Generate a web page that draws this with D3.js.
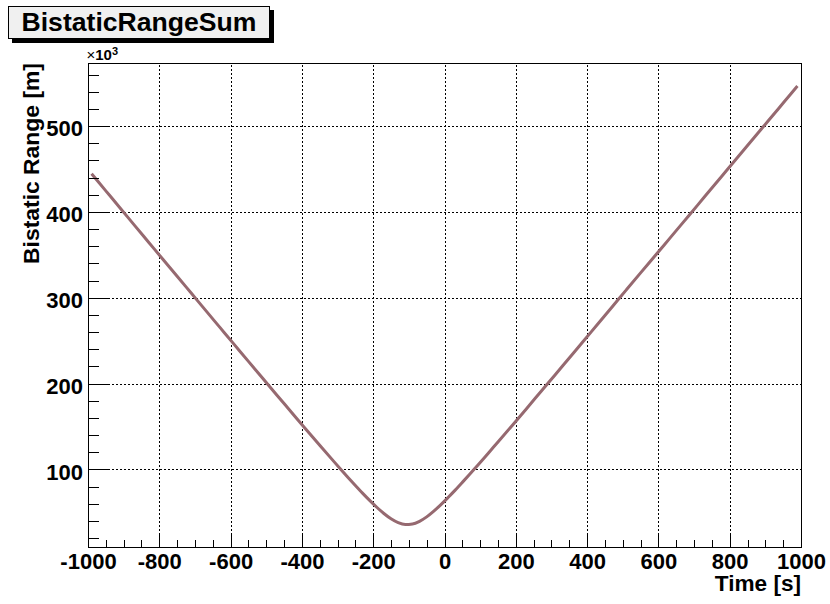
<!DOCTYPE html>
<html>
<head>
<meta charset="utf-8">
<script src="https://cdn.jsdelivr.net/npm/d3@7"></script>
<style>
  html, body { margin: 0; padding: 0; background: #fff; }
  svg { display: block; }
  text { font-family: "Liberation Sans", Arial, Helvetica, sans-serif; font-weight: bold; fill: #000; }
</style>
</head>
<body>
<svg id="chart" width="830" height="604"></svg>
<script>
// Bistatic range sum (in units of 10^3 m) sampled over time (s)
const times = [
  -990, -950, -910, -870, -830, -790, -750, -710, -670, -630, -590, -550, -510,
  -470, -430, -390, -350, -310, -290, -270, -250, -230, -210, -190, -170, -150,
  -130, -110, -90, -70, -50, -30, -10, 10, 30, 50, 70, 90, 110, 130, 150, 190,
  230, 270, 310, 350, 390, 430, 470, 510, 550, 590, 630, 670, 710, 750, 790,
  830, 870, 910, 950, 990
];
const rangeSum = [
  444.4, 424.5, 404.6, 384.6, 364.7, 344.8, 325.0, 305.1, 285.2, 265.4, 245.6, 225.8, 206.1,
  186.4, 166.9, 147.3, 128.0, 109.0, 99.6, 90.3, 81.2, 72.3, 63.8, 55.8, 48.5, 42.3,
  37.8, 35.6, 36.2, 39.4, 44.6, 51.3, 58.9, 67.2, 75.8, 84.8, 94.0, 103.3, 112.7, 122.3, 131.9, 151.2,
  170.7, 190.4, 210.0, 229.8, 249.5, 269.4, 289.2, 309.1, 328.9, 348.5, 368.3, 388.1, 407.9, 427.8, 447.6,
  467.4, 487.2, 507.0, 526.8, 546.6
];

const xMajor = [-1000, -800, -600, -400, -200, 0, 200, 400, 600, 800, 1000];
const yMajor = [100, 200, 300, 400, 500];
const xTitle = "Time [s]";
const yTitle = "Bistatic Range [m]";
const histTitle = "BistaticRangeSum";

const frame = { left: 88, right: 801, top: 63, bottom: 547 };

const svg = d3.select("#chart");

const x = d3.scaleLinear().domain([-1000, 1000]).range([frame.left, frame.right]);
const y = d3.scaleLinear().domain([9.5, 573.5]).range([frame.bottom, frame.top]);

const fh = frame.bottom - frame.top;
const fw = frame.right - frame.left;

// plain hyphen-minus for negative tick labels
const fmt = d => String(d);

// minor tick positions
const xMinor = d3.range(-1000, 1000.1, 50).filter(v => !xMajor.includes(v));
const yMinor = d3.range(20, 573, 20).filter(v => !yMajor.includes(v));

// dotted grid
const gridX = svg.append("g").attr("transform", `translate(0,${frame.bottom})`)
  .call(d3.axisBottom(x).tickValues(xMajor.slice(1, -1)).tickSize(-fh).tickFormat(""));
const gridY = svg.append("g").attr("transform", `translate(${frame.left},0)`)
  .call(d3.axisLeft(y).tickValues(yMajor).tickSize(-fw).tickFormat(""));
[gridX, gridY].forEach(g => {
  g.select(".domain").remove();
  g.selectAll("line").attr("stroke", "#000").attr("stroke-width", 1)
    .attr("stroke-dasharray", "2,2").attr("shape-rendering", "crispEdges");
});

// curve
const line = d3.line()
  .x((d, i) => x(times[i]))
  .y(d => y(d))
  .curve(d3.curveMonotoneX);
svg.append("path")
  .datum(rangeSum)
  .attr("d", line)
  .attr("fill", "none")
  .attr("stroke", "#966970")
  .attr("stroke-width", 3)
  .attr("stroke-linejoin", "round");

// frame
svg.append("rect")
  .attr("x", frame.left + 0.5).attr("y", frame.top + 0.5)
  .attr("width", fw).attr("height", fh)
  .attr("fill", "none").attr("stroke", "#000").attr("stroke-width", 1);

// x axis: major + minor ticks pointing inward
const xAxis = svg.append("g").attr("transform", `translate(0,${frame.bottom + 0.5})`)
  .call(d3.axisBottom(x).tickValues(xMajor).tickSizeInner(-14.5).tickSizeOuter(0).tickPadding(6)
    .tickFormat(fmt));
xAxis.select(".domain").remove();
xAxis.selectAll("line").attr("stroke", "#000").attr("shape-rendering", "crispEdges");
xAxis.selectAll("text").attr("font-size", 22).attr("font-family", null).attr("dy", "0.71em");

const xAxisMinor = svg.append("g").attr("transform", `translate(0,${frame.bottom + 0.5})`)
  .call(d3.axisBottom(x).tickValues(xMinor).tickSizeInner(-7.3).tickSizeOuter(0).tickFormat(""));
xAxisMinor.select(".domain").remove();
xAxisMinor.selectAll("line").attr("stroke", "#000").attr("shape-rendering", "crispEdges");

// y axis
const yAxis = svg.append("g").attr("transform", `translate(${frame.left + 0.5},0)`)
  .call(d3.axisLeft(y).tickValues(yMajor).tickSizeInner(-21.4).tickSizeOuter(0).tickPadding(5.5)
    .tickFormat(fmt));
yAxis.select(".domain").remove();
yAxis.selectAll("line").attr("stroke", "#000").attr("shape-rendering", "crispEdges");
yAxis.selectAll("text").attr("font-size", 22).attr("font-family", null).attr("dy", "0.44em");

const yAxisMinor = svg.append("g").attr("transform", `translate(${frame.left + 0.5},0)`)
  .call(d3.axisLeft(y).tickValues(yMinor).tickSizeInner(-10.7).tickSizeOuter(0).tickFormat(""));
yAxisMinor.select(".domain").remove();
yAxisMinor.selectAll("line").attr("stroke", "#000").attr("shape-rendering", "crispEdges");

// exponent label
const expo = svg.append("text").attr("x", 86.5).attr("y", 59.5).style("font-size", "15px");
expo.append("tspan").attr("font-weight", "normal").text("×");
expo.append("tspan").text("10");
expo.append("tspan").style("font-size", "11px").attr("dy", -5).text("3");

// axis titles
svg.append("text")
  .attr("x", frame.right).attr("y", 590.5)
  .attr("text-anchor", "end").attr("font-size", 22.6)
  .text(xTitle);
svg.append("text")
  .attr("transform", `translate(38.5,${frame.top}) rotate(-90)`)
  .attr("text-anchor", "end").attr("font-size", 22.9)
  .text(yTitle);

// title box with shadow
svg.append("rect").attr("x", 12).attr("y", 10).attr("width", 262).attr("height", 33).attr("fill", "#000");
svg.append("rect").attr("x", 8.5).attr("y", 6.5).attr("width", 261).attr("height", 32)
  .attr("fill", "#f0f0f0").attr("stroke", "#000").attr("stroke-width", 1);
svg.append("text")
  .attr("x", 139).attr("y", 31)
  .attr("text-anchor", "middle").attr("font-size", 26.6)
  .text(histTitle);
</script>
</body>
</html>
